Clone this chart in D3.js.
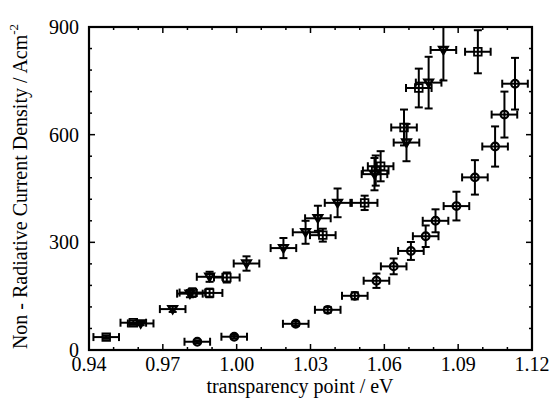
<!DOCTYPE html>
<html>
<head>
<meta charset="utf-8">
<script src="https://cdn.jsdelivr.net/npm/d3@7"></script>
<style>
body { margin: 0; background: #fff; }
text { font-family: "Liberation Serif", "Times New Roman", "DejaVu Serif", serif; }
</style>
</head>
<body>
<div id="chart"></div>
<script>
(function(){
// open squares
const squareX = [0.947, 0.958, 0.982, 0.989, 0.996, 1.035, 1.052, 1.0565, 1.0585, 1.068, 1.074, 1.098];
const squareY = [36, 76, 160, 159, 202, 320, 410, 500, 512, 620, 730, 831];
const squareYErr = [5, 6, 12, 12, 14, 18, 20, 42, 42, 50, 54, 60];
// down triangles
const triX = [0.961, 0.974, 0.981, 0.989, 1.004, 1.019, 1.028, 1.033, 1.041, 1.056, 1.069, 1.078, 1.084];
const triY = [74, 114, 157, 204, 241, 284, 328, 367, 410, 490, 578, 745, 836];
const triYErr = [5, 8, 10, 14, 20, 28, 32, 35, 40, 45, 52, 72, 85];
// circles
const circX = [0.984, 0.999, 1.024, 1.037, 1.048, 1.0568, 1.0638, 1.0708, 1.0768, 1.0808, 1.0893, 1.0968, 1.105, 1.1088, 1.1131];
const circY = [23, 37, 73, 112, 151, 193, 233, 276, 317, 360, 401, 481, 567, 656, 742];
const circYErr = [4, 5, 6, 8, 10, 20, 22, 25, 30, 32, 40, 48, 56, 64, 72];
const xErr = 0.0052;

const xTicks = [0.94, 0.97, 1.00, 1.03, 1.06, 1.09, 1.12];
const yTicks = [0, 300, 600, 900];

const W = 553, H = 411;
const m = {left: 89, top: 27, right: 21, bottom: 61};
const w = W - m.left - m.right, h = H - m.top - m.bottom;
const serif = '"Liberation Serif", "Times New Roman", serif';

const svg = d3.select('#chart').append('svg').attr('width', W).attr('height', H);
const g = svg.append('g').attr('transform', `translate(${m.left},${m.top})`);

const x = d3.scaleLinear().domain([0.94, 1.12]).range([0, w]);
const y = d3.scaleLinear().domain([0, 900]).range([h, 0]);

svg.append('clipPath').attr('id', 'clip').append('rect').attr('width', w).attr('height', h);

// minor + major ticks, inward on all four sides
const xMinor = d3.range(94, 113).map(v => v / 100);
const yMinor = d3.range(0, 901, 60);
const tickG = g.append('g').attr('stroke', '#000').attr('stroke-width', 1.5);
xMinor.forEach(v => {
  const len = xTicks.some(t => Math.abs(t - v) < 1e-6) ? 6 : 3;
  tickG.append('line').attr('x1', x(v)).attr('x2', x(v)).attr('y1', h).attr('y2', h - len);
  tickG.append('line').attr('x1', x(v)).attr('x2', x(v)).attr('y1', 0).attr('y2', len);
});
yMinor.forEach(v => {
  const len = v % 300 === 0 ? 6 : 3;
  tickG.append('line').attr('x1', 0).attr('x2', len).attr('y1', y(v)).attr('y2', y(v));
  tickG.append('line').attr('x1', w).attr('x2', w - len).attr('y1', y(v)).attr('y2', y(v));
});

// tick labels
g.selectAll('.xl').data(xTicks).enter().append('text')
  .attr('x', d => x(d)).attr('y', h + 21).attr('text-anchor', 'middle')
  .attr('font-family', serif).attr('font-size', 20).text(d => d3.format('.2f')(d));
g.selectAll('.yl').data(yTicks).enter().append('text')
  .attr('x', -10).attr('y', d => y(d) + 7).attr('text-anchor', 'end')
  .attr('font-family', serif).attr('font-size', 20).text(d => d);

// frame
g.append('rect').attr('width', w).attr('height', h)
  .attr('fill', 'none').attr('stroke', '#000').attr('stroke-width', 2.2);

// error bars + markers
const plot = g.append('g').attr('clip-path', 'url(#clip)');
function series(xs, ys, ye, shape, sw) {
  const data = xs.map((v, i) => ({x: v, y: ys[i], e: ye[i]}));
  const cap = 4;
  const eb = plot.append('g').attr('stroke', '#000').attr('stroke-width', 2);
  data.forEach(d => {
    const cx = x(d.x), cy = y(d.y);
    const x0 = x(d.x - xErr), x1 = x(d.x + xErr);
    const y0 = y(d.y - d.e), y1 = y(d.y + d.e);
    eb.append('line').attr('x1', x0).attr('x2', x1).attr('y1', cy).attr('y2', cy);
    eb.append('line').attr('x1', x0).attr('x2', x0).attr('y1', cy - cap).attr('y2', cy + cap);
    eb.append('line').attr('x1', x1).attr('x2', x1).attr('y1', cy - cap).attr('y2', cy + cap);
    eb.append('line').attr('x1', cx).attr('x2', cx).attr('y1', y0).attr('y2', y1);
    eb.append('line').attr('x1', cx - cap).attr('x2', cx + cap).attr('y1', y0).attr('y2', y0);
    eb.append('line').attr('x1', cx - cap).attr('x2', cx + cap).attr('y1', y1).attr('y2', y1);
  });
  plot.append('g').selectAll('path').data(data).enter().append('path')
    .attr('transform', d => `translate(${x(d.x)},${y(d.y)})`)
    .attr('d', shape)
    .attr('fill', 'none').attr('stroke', '#000').attr('stroke-width', sw);
}
series(squareX, squareY, squareYErr, 'M-3.8,-3.8H3.8V3.8H-3.8Z', 1.8);
series(triX, triY, triYErr, 'M-4.2,-3H4.2L0,4Z', 2.4);
series(circX, circY, circYErr, d3.symbol().type(d3.symbolCircle).size(46)(), 2.2);

// axis titles
g.append('text').attr('x', 211).attr('y', h + 43).attr('text-anchor', 'middle')
  .attr('font-family', serif).attr('font-size', 20).text('transparency point / eV');
const yt = svg.append('text').attr('transform', `translate(27,${m.top + h / 2 - 2}) rotate(-90)`)
  .attr('text-anchor', 'middle').attr('font-family', serif).attr('font-size', 20);
yt.append('tspan').text('Non - Radiative Current Density / Acm');
yt.append('tspan').attr('font-size', 13).attr('dy', -9).text('-2');
})();
</script>
</body>
</html>
